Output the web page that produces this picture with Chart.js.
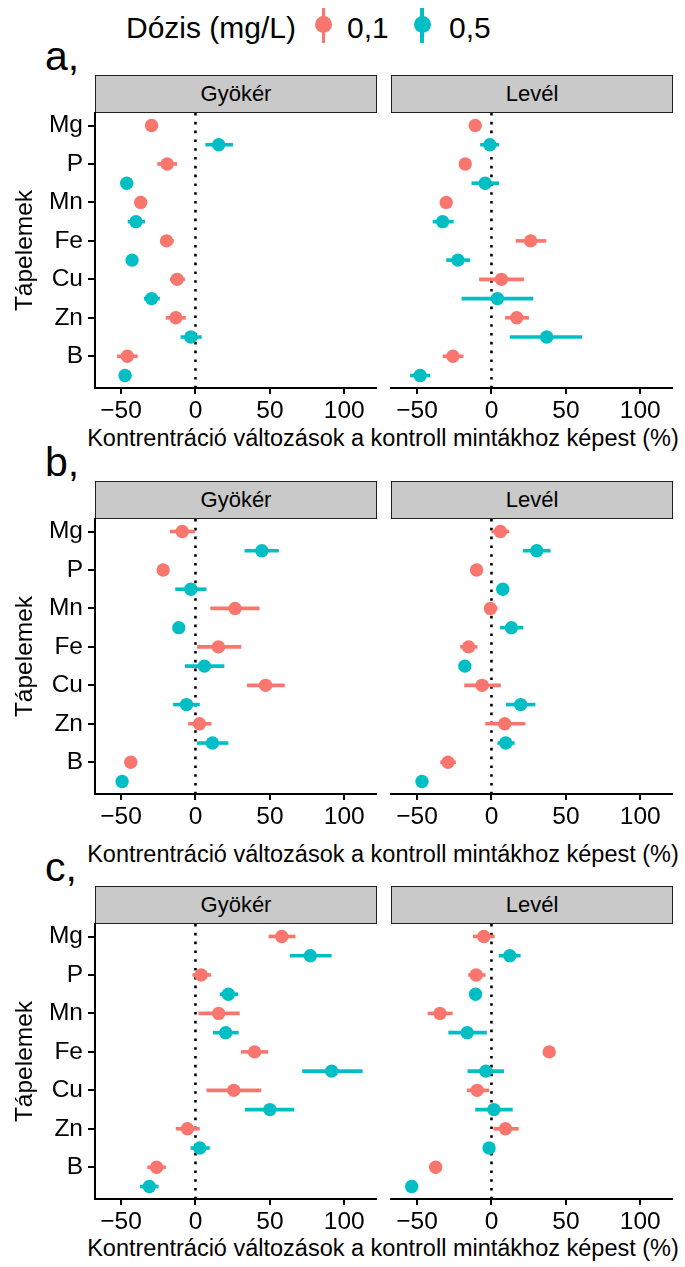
<!DOCTYPE html>
<html>
<head>
<meta charset="utf-8">
<script src="https://cdn.jsdelivr.net/npm/chart.js@4.4.1/dist/chart.umd.min.js"></script>
<style>
  html, body { margin: 0; padding: 0; background: #fff; }
  body { width: 685px; height: 1267px; position: relative; overflow: hidden;
         font-family: "Liberation Sans", Arial, sans-serif; color: #000; }
  .txt { position: absolute; white-space: nowrap; line-height: 1; }
  .strip { position: absolute; box-sizing: border-box; background: #c9c9c9;
           border: 1.5px solid #222; font-size: 22px; text-align: center; line-height: 35px; }
  .key-line { position: absolute; width: 3.4px; height: 35px; }
  .key-dot { position: absolute; width: 17px; height: 17px; border-radius: 50%; }
  canvas { position: absolute; }
</style>
</head>
<body>

<!-- legend -->
<div class="txt" style="left:126px; top:12.6px; font-size:30px;">Dózis (mg/L)</div>
<div class="key-line" style="left:321.6px; top:8px; background:#F8766D;"></div>
<div class="key-dot" style="left:314.8px; top:16.2px; background:#F8766D;"></div>
<div class="txt" style="left:347px; top:12.6px; font-size:30px;">0,1</div>
<div class="key-line" style="left:420.3px; top:8px; background:#00BFC4;"></div>
<div class="key-dot" style="left:413.5px; top:16.2px; background:#00BFC4;"></div>
<div class="txt" style="left:449px; top:12.6px; font-size:30px;">0,5</div>

<div id="figure"></div>

<script>
// Nutrient elements shown on the vertical axis, top to bottom
const categories = ['Mg', 'P', 'Mn', 'Fe', 'Cu', 'Zn', 'B'];
const xTicks = [-50, 0, 50, 100];
const doses = ['0,1', '0,5'];
const facets = ['Gyökér', 'Levél'];
const panelLetters = ['a,', 'b,', 'c,'];

// Each row: [lower CI, mean, upper CI] in % change vs. control, in category order
// Panel a
const aRoot01 = [[-31.5, -29.5, -27.5], [-25.7, -19.0, -12.3], [-38.8, -36.8, -34.8], [-23.7, -19.4, -14.5], [-17.2, -12.3, -7.1], [-19.9, -13.2, -6.5], [-52.7, -45.8, -38.8]];
const aRoot05 = [[6.7, 15.6, 25.2], [-48.0, -46.2, -44.4], [-45.5, -40.0, -33.9], [-44.4, -42.6, -40.8], [-34.6, -29.5, -23.9], [-10.0, -3.1, 4.2], [-49.0, -47.3, -45.6]];
const aLeaf01 = [[-12.8, -10.9, -9.0], [-19.5, -17.6, -15.7], [-32.3, -30.4, -28.5], [16.3, 26.3, 36.8], [-8.3, 6.7, 21.9], [9.2, 17.0, 25.2], [-32.8, -25.9, -18.8]];
const aLeaf05 = [[-7.6, -1.1, 5.1], [-13.4, -4.2, 5.1], [-39.5, -32.8, -25.4], [-30.4, -22.5, -14.3], [-20.1, 4.0, 28.1], [12.3, 37.1, 60.9], [-54.7, -47.9, -41.1]];
// Panel b
const bRoot01 = [[-17.2, -8.9, -0.4], [-23.5, -21.7, -19.9], [10.0, 26.6, 43.1], [1.1, 15.4, 30.8], [34.6, 47.1, 60.0], [-4.9, 2.7, 10.7], [-45.3, -43.5, -41.7]];
const bRoot05 = [[33.0, 44.6, 56.0], [-13.6, -3.1, 7.4], [-13.0, -11.2, -9.4], [-7.1, 6.0, 19.4], [-15.0, -6.0, 2.9], [1.1, 11.4, 22.1], [-51.1, -49.3, -47.5]];
const bLeaf01 = [[0.0, 6.0, 12.0], [-11.8, -10.0, -8.2], [-4.9, -0.7, 4.0], [-21.0, -15.4, -9.4], [-18.3, -6.3, 6.3], [-4.2, 8.9, 22.8], [-34.4, -29.2, -23.9]];
const bLeaf05 = [[21.2, 30.4, 39.7], [5.8, 7.6, 9.4], [5.8, 13.4, 21.4], [-19.7, -17.9, -16.1], [9.8, 19.6, 29.5], [4.0, 9.6, 15.6], [-48.5, -46.7, -44.9]];
// Panel c
const cRoot01 = [[49.1, 58.0, 67.2], [-2.0, 3.8, 10.5], [2.0, 15.6, 29.7], [30.6, 39.7, 48.9], [7.4, 25.7, 44.2], [-13.2, -5.4, 2.9], [-32.4, -26.1, -19.9]];
const cRoot05 = [[63.4, 77.2, 91.5], [16.3, 22.1, 28.8], [11.8, 20.3, 29.0], [71.7, 91.5, 112.3], [33.3, 50.0, 66.3], [-3.3, 2.9, 9.6], [-37.3, -31.0, -24.8]];
const cLeaf01 = [[-12.5, -5.1, 2.2], [-15.6, -10.3, -4.0], [-42.9, -34.6, -26.1], [37.0, 38.8, 40.6], [-16.5, -9.6, -1.6], [1.3, 9.4, 18.3], [-39.3, -37.5, -35.7]];
const cLeaf05 = [[4.9, 12.3, 19.6], [-12.5, -10.7, -8.9], [-29.0, -16.3, -3.1], [-16.1, -3.8, 8.5], [-10.9, 1.6, 14.3], [-3.4, -1.6, 0.2], [-55.4, -53.6, -51.8]];

const panels = [
  { letter: panelLetters[0], stripTop: 75,  titleTop: 427, series: [[aRoot01, aRoot05], [aLeaf01, aLeaf05]] },
  { letter: panelLetters[1], stripTop: 481, titleTop: 843, series: [[bRoot01, bRoot05], [bLeaf01, bLeaf05]] },
  { letter: panelLetters[2], stripTop: 886, titleTop: 1237, series: [[cRoot01, cRoot05], [cLeaf01, cLeaf05]] }
];

const COLORS = ['#F8766D', '#00BFC4'];
const X_MIN = -67.5, X_MAX = 121.3;
const Y_MIN = 0.675, Y_MAX = 7.825;
const FONT = '"Liberation Sans", Arial, sans-serif';
const STRIP_H = 38, PLOT_H = 275, AXIS_H = 40, PAD_TOP = 24, PAD_SIDE = 25;
const FACET_LEFT = [95, 391], FACET_W = 281, Y_AXIS_W = 95;

Chart.defaults.font.family = FONT;
Chart.defaults.color = '#000';

const fig = document.getElementById('figure');

function el(tag, cls, style, text) {
  const e = document.createElement(tag);
  if (cls) e.className = cls;
  Object.assign(e.style, style);
  if (text != null) e.textContent = text;
  fig.appendChild(e);
  return e;
}

function facetChart(canvas, series, withAxis) {
  const datasets = [{
    // dotted reference line at zero change
    data: [{ x: 0, y: Y_MIN }, { x: 0, y: Y_MAX }],
    showLine: true, borderColor: '#000', borderWidth: 2.6, borderDash: [2.6, 6.2],
    pointRadius: 0, order: 3
  }];
  series.forEach((rows, d) => {
    const off = d * 0.5;
    rows.forEach((r, i) => datasets.push({
      data: [{ x: r[0], y: i + 1 + off }, { x: r[2], y: i + 1 + off }],
      showLine: true, borderColor: COLORS[d], borderWidth: 3.6, borderCapStyle: 'butt',
      pointRadius: 0, order: 2
    }));
    datasets.push({
      label: doses[d],
      data: rows.map((r, i) => ({ x: r[1], y: i + 1 + off })),
      backgroundColor: COLORS[d], borderWidth: 0, pointRadius: 6.7, pointHoverRadius: 6.7, order: 1
    });
  });

  return new Chart(canvas, {
    type: 'scatter',
    data: { datasets },
    options: {
      responsive: false, animation: false, devicePixelRatio: 1,
      events: [],
      layout: { padding: { top: PAD_TOP, right: PAD_SIDE, bottom: 0, left: withAxis ? 0 : PAD_SIDE } },
      plugins: { legend: { display: false }, tooltip: { enabled: false } },
      scales: {
        x: {
          type: 'linear', min: X_MIN, max: X_MAX,
          afterBuildTicks: s => { s.ticks = xTicks.map(v => ({ value: v })); },
          afterFit: s => { s.height = AXIS_H; },
          ticks: {
            autoSkip: false, maxRotation: 0, padding: 3, color: '#000', font: { size: 24.5 },
            callback: v => (v < 0 ? '\u2212' + Math.abs(v) : String(v))
          },
          grid: { display: true, drawOnChartArea: false, drawTicks: true, tickLength: 6, color: '#000', lineWidth: 2 },
          border: { display: true, color: '#000', width: 2 }
        },
        y: {
          type: 'linear', min: Y_MIN, max: Y_MAX, reverse: true, display: withAxis,
          afterBuildTicks: s => { s.ticks = categories.map((c, i) => ({ value: i + 1 })); },
          afterFit: s => { if (withAxis) s.width = Y_AXIS_W; },
          ticks: {
            autoSkip: false, padding: 5, color: '#000', font: { size: 24.5 },
            callback: v => categories[Math.round(v) - 1]
          },
          grid: { display: true, drawOnChartArea: false, drawTicks: true, tickLength: 7, color: '#000', lineWidth: 2 },
          border: { display: true, color: '#000', width: 2 },
          title: { display: true, text: 'Tápelemek', color: '#000', font: { size: 24.5 }, padding: { top: 10.3, bottom: 0 } }
        }
      }
    }
  });
}

panels.forEach(p => {
  const plotTop = p.stripTop + STRIP_H;
  // panel letter
  el('div', 'txt', { left: '45px', top: (p.stripTop - 38.7) + 'px', fontSize: '41px' }, p.letter);
  // x-axis title centred over both facets
  el('div', 'txt', { left: '383px', transform: 'translateX(-50%)', top: p.titleTop + 'px', fontSize: '23.5px' },
     'Kontrentráció változások a kontroll mintákhoz képest (%)');

  facets.forEach((name, f) => {
    el('div', 'strip', { left: FACET_LEFT[f] + 'px', top: p.stripTop + 'px', width: (FACET_W + 1) + 'px', height: STRIP_H + 'px' }, name);

    const c = document.createElement('canvas');
    const withAxis = f === 0;
    const left = withAxis ? FACET_LEFT[f] - Y_AXIS_W : FACET_LEFT[f] - PAD_SIDE;
    const w = (withAxis ? Y_AXIS_W : PAD_SIDE) + FACET_W + PAD_SIDE;
    const h = PAD_TOP + PLOT_H + AXIS_H;
    c.width = w; c.height = h;
    Object.assign(c.style, { left: left + 'px', top: (plotTop - PAD_TOP) + 'px', width: w + 'px', height: h + 'px' });
    fig.appendChild(c);
    facetChart(c, p.series[f], withAxis);
  });
});
</script>
</body>
</html>
